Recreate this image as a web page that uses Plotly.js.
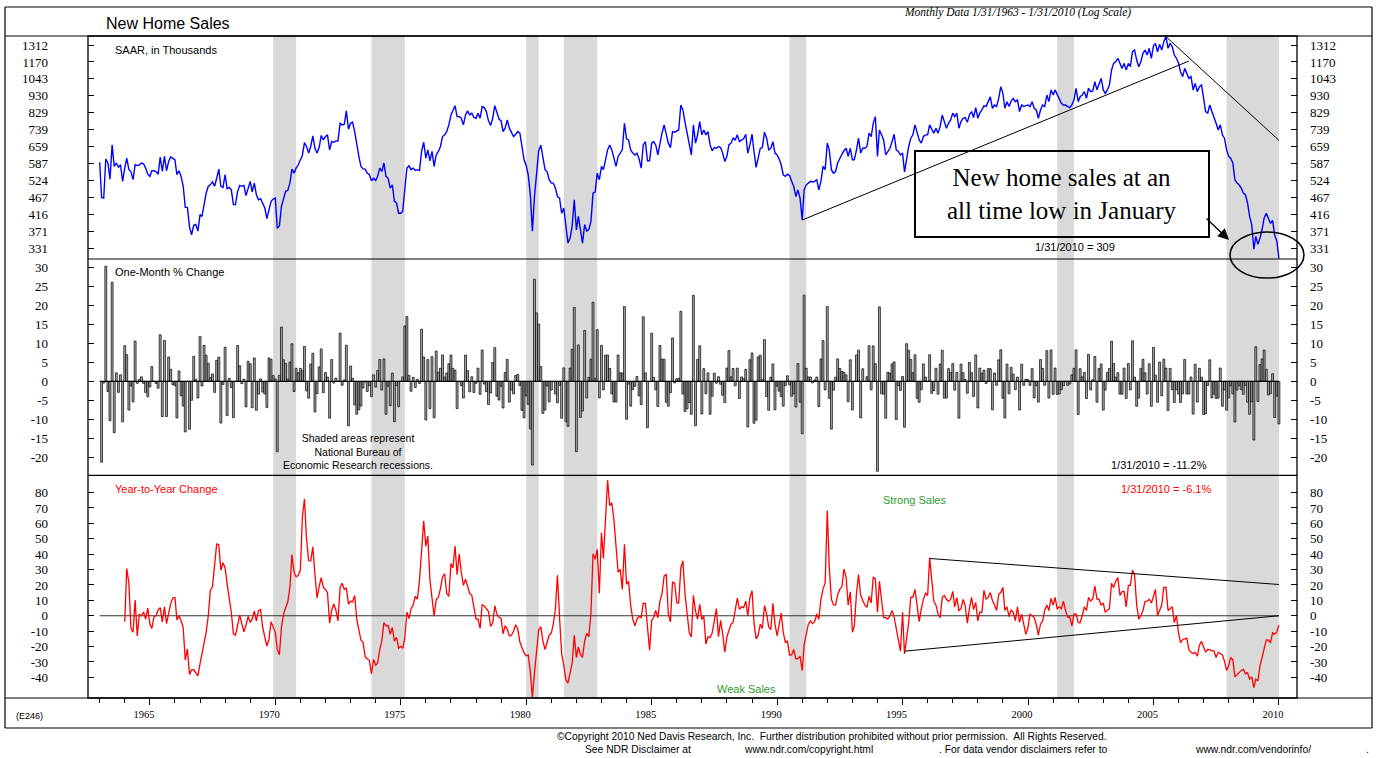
<!DOCTYPE html>
<html><head><meta charset="utf-8">
<script src="https://cdn.plot.ly/plotly-3.0.1.min.js"></script>
<style>html,body{margin:0;padding:0;background:#fff;}#chart{width:1377px;height:758px;}</style>
</head><body><div id="chart"></div>
<script>
// ---------- DATA ----------
const firstYear = 1963;   // series starts January 1963, month-end dates
const salesSAAR = [
/*1963*/ 593,467,465,606,590,529,667,577,590,573,583,521,
/*1964*/ 570,610,564,557,527,583,580,583,590,587,570,547,
/*1965*/ 539,560,560,557,547,614,557,617,560,596,615,610,
/*1966*/ 603,545,560,539,504,437,437,382,363,387,389,372,
/*1967*/ 416,411,450,481,504,509,519,504,532,566,504,500,
/*1968*/ 545,496,500,492,445,445,487,507,504,507,473,498,
/*1969*/ 521,485,515,476,460,463,450,435,405,430,455,462,
/*1970*/ 465,379,385,440,465,487,490,515,566,551,570,583,
/*1971*/ 603,620,677,660,631,660,709,652,631,655,711,690,
/*1972*/ 706,714,645,682,679,685,685,772,764,767,840,742,
/*1973*/ 772,778,730,667,617,577,567,566,551,545,523,532,
/*1974*/ 524,539,570,557,590,539,532,498,509,455,450,420,
/*1975*/ 420,425,487,570,579,564,570,561,564,561,638,679,
/*1976*/ 610,645,599,638,577,623,638,660,706,714,730,764,
/*1977*/ 817,845,870,808,808,799,764,817,840,817,827,803,
/*1978*/ 799,827,799,865,859,836,785,761,799,870,836,795,
/*1979*/ 785,730,747,790,747,730,706,717,730,722,667,603,
/*1980*/ 580,545,477,372,472,557,641,666,610,564,557,527,
/*1981*/ 515,515,498,470,465,420,435,389,343,355,385,460,
/*1982*/ 375,411,372,343,389,372,376,398,481,485,551,527,
/*1983*/ 577,564,603,645,667,645,610,577,617,631,645,772,
/*1984*/ 695,690,645,631,623,631,607,570,667,682,599,599,
/*1985*/ 675,682,667,623,682,722,764,722,675,655,730,727,
/*1986*/ 732,738,874,845,778,722,682,623,764,675,714,781,
/*1987*/ 714,738,714,730,667,641,655,652,660,655,631,596,
/*1988*/ 617,667,675,698,690,714,682,690,695,717,631,667,
/*1989*/ 717,638,573,610,652,655,727,698,645,652,682,631,
/*1990*/ 623,607,583,545,539,547,542,521,504,470,492,465,
/*1991*/ 401,492,509,515,521,519,521,527,492,521,577,564,
/*1992*/ 675,645,564,551,557,590,610,626,641,652,617,652,
/*1993*/ 603,603,645,698,631,652,652,660,722,706,772,808,
/*1994*/ 617,738,714,690,623,638,652,682,717,645,638,623,
/*1995*/ 631,555,610,660,698,714,764,730,690,675,706,714,
/*1996*/ 714,764,740,722,747,722,755,817,781,747,772,790,
/*1997*/ 827,808,827,747,781,799,803,778,817,836,803,859,
/*1998*/ 799,827,845,870,865,894,924,855,874,865,914,990,
/*1999*/ 946,855,894,865,897,914,894,904,836,874,865,870,
/*2000*/ 874,865,894,855,845,799,845,874,865,935,894,968,
/*2001*/ 935,968,935,904,884,874,874,865,859,874,904,979,
/*2002*/ 894,924,935,957,914,979,957,961,1024,968,1001,1047,
/*2003*/ 968,946,968,1001,1107,1159,1172,1199,1159,1120,1159,1107,
/*2004*/ 1159,1133,1254,1268,1185,1133,1172,1240,1268,1226,1283,1199,
/*2005*/ 1306,1327,1254,1318,1268,1342,1389,1283,1327,1298,1226,1199,
/*2006*/ 1159,1095,1059,1120,1083,1047,1059,968,1012,957,990,1001,
/*2007*/ 914,836,827,874,836,808,772,738,764,714,698,645,
/*2008*/ 617,610,590,527,515,509,498,481,476,450,411,389,
/*2009*/ 329,359,340,355,376,407,420,405,392,400,362,348,
/*2010*/ 309
];
const recessions = [['1969-12','1970-11'],['1973-11','1975-03'],['1980-01','1980-07'],
  ['1981-07','1982-11'],['1990-07','1991-03'],['2001-03','2001-11'],['2007-12','2010-01']];
const topTicks = [331,371,416,467,524,587,659,739,829,930,1043,1170,1312];
const midTicks = [-20,-15,-10,-5,0,5,10,15,20,25,30];
const botTicks = [-40,-30,-20,-10,0,10,20,30,40,50,60,70,80];
const labelYears = [1965,1970,1975,1980,1985,1990,1995,2000,2005,2010];
const trendTopUpMonths = ['1991-01','2006-06'];   const trendTopUpValues = [401,1177];
const trendTopDownMonths = ['2005-07','2010-01']; const trendTopDownValues = [1389,688];
const trendYoYUpMonths = ['1996-02','2010-01'];   const trendYoYUpValues = [37.2,20.3];
const trendYoYLowMonths = ['1995-02','2010-01'];  const trendYoYLowValues = [-23,0];

// ---------- helpers ----------
function monthEnd(y, m){ // m 1..12
  const d = new Date(Date.UTC(y, m, 0));
  return d.toISOString().slice(0,10);
}
function me(s){ const p=s.split('-'); return monthEnd(+p[0], +p[1]); }
const dates = salesSAAR.map((v,i)=>monthEnd(firstYear+Math.floor(i/12), i%12+1));
const momDates=[], momPct=[];
for(let i=1;i<salesSAAR.length;i++){ momDates.push(dates[i]); momPct.push((salesSAAR[i]/salesSAAR[i-1]-1)*100); }
const yoyDates=[], yoyPct=[];
for(let i=12;i<salesSAAR.length;i++){ yoyDates.push(dates[i]); yoyPct.push((salesSAAR[i]/salesSAAR[i-12]-1)*100); }
const allYears=[]; for(let y=1963;y<=2010;y++) allYears.push(monthEnd(y,1));

const W=1377,H=758,L=88,R=80,T=36,B=60, PW=W-L-R, PH=H-T-B;
const px = x => (x-L)/PW, py = y => (H-B-y)/PH;
const sans='Liberation Sans, Arial, sans-serif', serif='Liberation Serif, Times New Roman, serif';
const dTop=[py(259),1], dMid=[py(475.3),py(259)], dBot=[0,py(475.3)];

const traces = [
  {x:dates, y:salesSAAR, type:'scatter', mode:'lines', line:{color:'#0000ff', width:1.4}, xaxis:'x', yaxis:'y'},
  {x:trendTopUpMonths.map(me), y:trendTopUpValues, mode:'lines', line:{color:'#000', width:1}, yaxis:'y'},
  {x:trendTopDownMonths.map(me), y:trendTopDownValues, mode:'lines', line:{color:'#000', width:1}, yaxis:'y'},
  {x:[dates[0],dates[dates.length-1]], y:[0,0], mode:'lines', line:{color:'#000', width:1.2}, yaxis:'y2'},
  {x:momDates, y:momPct, type:'bar', marker:{color:'#a6a6a6', line:{color:'#000', width:0.7}}, yaxis:'y2'},
  {x:[dates[0],dates[dates.length-1]], y:[0,0], mode:'lines', line:{color:'#333', width:1}, yaxis:'y3'},
  {x:yoyDates, y:yoyPct, mode:'lines', line:{color:'#ff0000', width:1.3}, yaxis:'y3'},
  {x:trendYoYUpMonths.map(me), y:trendYoYUpValues, mode:'lines', line:{color:'#000', width:1}, yaxis:'y3'},
  {x:trendYoYLowMonths.map(me), y:trendYoYLowValues, mode:'lines', line:{color:'#000', width:1}, yaxis:'y3'},
  {x:[], y:[], yaxis:'y4'},{x:[], y:[], yaxis:'y5'},{x:[], y:[], yaxis:'y6'}
];

function yax(domain, ticks, range, type, side, overlay){
  const a = {domain:domain, range:range, tickmode:'array', tickvals:ticks, ticktext:ticks.map(String),
    ticks:'inside', ticklen:6, tickcolor:'#000', showgrid:false, zeroline:false, showline:false,
    anchor:'x', fixedrange:true, tickfont:{family:serif, size:13, color:'#000'},
    side:side, ticklabelstandoff: side==='left'?39:12};
  if(type) a.type=type;
  if(overlay) a.overlaying=overlay;
  return a;
}

const shapes = [];
recessions.forEach(r=>shapes.push({type:'rect', xref:'x', yref:'paper', x0:me(r[0]), x1:me(r[1]), y0:0, y1:1,
  fillcolor:'#d9d9d9', line:{width:0}, layer:'below'}));
const ln = (x0,y0,x1,y1,w)=>({type:'line', xref:'paper', yref:'paper', x0:px(x0), y0:py(y0), x1:px(x1), y1:py(y1), line:{color:'#000', width:w||1.2}});
shapes.push({type:'rect', xref:'paper', yref:'paper', x0:0, x1:1, y0:0, y1:1, line:{color:'#000', width:1.3}});
shapes.push(ln(88,259,1297,259), ln(88,475.3,1297,475.3));
shapes.push(ln(5,7,1372,7), ln(5,36,1372,36), ln(5,698,1372,698), ln(5,728,1372,728), ln(5,7,5,728), ln(1372,7,1372,728));
shapes.push({type:'rect', xref:'paper', yref:'paper', x0:px(915), x1:px(1209), y0:py(237), y1:py(151), line:{color:'#000', width:2}});
shapes.push({type:'circle', xref:'paper', yref:'paper', x0:px(1230), x1:px(1304), y0:py(278), y1:py(232), line:{color:'#000', width:1.5}});

const ann = (x,y,text,opt)=>Object.assign({xref:'paper', yref:'paper', x:px(x), y:py(y), text:text, showarrow:false,
  xanchor:'left', yanchor:'middle', font:{family:sans, size:11, color:'#000'}}, opt||{});
const annotations = [
  ann(104,24,'New Home Sales',{font:{family:sans,size:16,color:'#000'}}),
  ann(1017,13,'<i>Monthly Data 1/31/1963 - 1/31/2010 (Log Scale)</i>',{xanchor:'center',font:{family:serif,size:11.5,color:'#000'}}),
  ann(113,50,'SAAR, in Thousands'),
  ann(113,272,'One-Month % Change'),
  ann(113,489,'Year-to-Year Change',{font:{family:sans,size:11,color:'#ff0000'}}),
  ann(914,500,'Strong Sales',{xanchor:'center',font:{family:sans,size:11,color:'#2e9a2e'}}),
  ann(746,689,'Weak Sales',{xanchor:'center',font:{family:sans,size:11,color:'#2e9a2e'}}),
  ann(1075,247,'1/31/2010 = 309',{xanchor:'center'}),
  ann(1159,465,'1/31/2010 = -11.2%',{xanchor:'center'}),
  ann(1166,489,'1/31/2010 = -6.1%',{xanchor:'center',font:{family:sans,size:11,color:'#ff0000'}}),
  ann(358,451,'Shaded areas represent<br>National Bureau of<br>Economic Research recessions.',{xanchor:'center',font:{family:sans,size:10.5,color:'#000'}}),
  ann(1062,194,'New home sales at an<br>all time low in January',{xanchor:'center',font:{family:serif,size:25,color:'#000'}}),
  {xref:'paper', yref:'paper', x:px(1229), y:py(240), ax:-24, ay:-23, text:'', showarrow:true, arrowhead:2, arrowsize:1.7, arrowwidth:1.3, arrowcolor:'#000'},
  ann(14,716,'(E246)',{font:{family:sans,size:9,color:'#000'}}),
  ann(832,737,'©Copyright 2010 Ned Davis Research, Inc.  Further distribution prohibited without prior permission.  All Rights Reserved.',{xanchor:'center',font:{family:sans,size:10.3,color:'#000'}}),
  ann(583,749,'See NDR Disclaimer at',{font:{family:sans,size:10.3,color:'#000'}}),
  ann(742,749,'www.ndr.com/copyright.html',{font:{family:sans,size:10.3,color:'#000'}}),
  ann(937,749,'. For data vendor disclaimers refer to',{font:{family:sans,size:10.3,color:'#000'}}),
  ann(1193,749,'www.ndr.com/vendorinfo/',{font:{family:sans,size:10.3,color:'#000'}}),
  ann(1364,749,'.',{font:{family:sans,size:10.3,color:'#000'}})
];

const lgTop=[2.4885,3.1445], rMid=[-24.7,32.2], rBot=[-53.4,91.2];
const layout = {
  width:W, height:H, margin:{l:L, r:R, t:T, b:B, pad:0}, paper_bgcolor:'#fff', plot_bgcolor:'#fff',
  showlegend:false, bargap:0, hovermode:false,
  xaxis:{type:'date', range:['1962-08-14','2010-10-21'], anchor:'y3', tickmode:'array',
    tickvals:labelYears.map(y=>monthEnd(y,1)), ticktext:labelYears.map(String),
    ticks:'outside', ticklen:6, tickcolor:'#000', showgrid:false, zeroline:false, showline:false,
    ticklabelshift:-6, tickfont:{family:serif, size:10.5, color:'#000'}, fixedrange:true,
    minor:{tickmode:'array', tickvals:allYears, ticks:'outside', ticklen:4, tickcolor:'#000', showgrid:false}},
  yaxis: yax(dTop, topTicks, lgTop, 'log', 'left'),
  yaxis2: yax(dMid, midTicks, rMid, null, 'left'),
  yaxis3: yax(dBot, botTicks, rBot, null, 'left'),
  yaxis4: yax(dTop, topTicks, lgTop, 'log', 'right', 'y'),
  yaxis5: yax(dMid, midTicks, rMid, null, 'right', 'y2'),
  yaxis6: yax(dBot, botTicks, rBot, null, 'right', 'y3'),
  shapes:shapes, annotations:annotations
};
Plotly.newPlot('chart', traces, layout, {staticPlot:true, displayModeBar:false});
</script></body></html>
